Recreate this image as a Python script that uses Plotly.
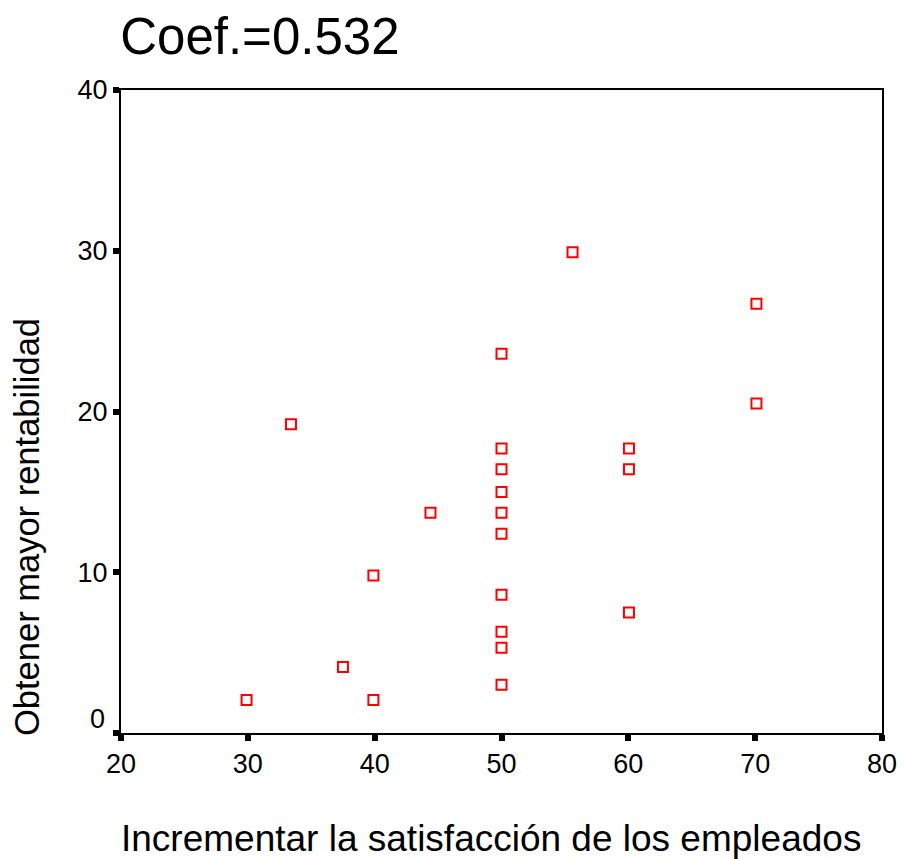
import plotly.graph_objects as go

# Data
satisfaccion = [55.6, 70.1, 50.0, 70.1, 33.4, 50.0, 60.05, 50.0, 60.05, 50.0,
                44.4, 50.0, 50.0, 39.9, 50.0, 60.05, 50.0, 50.0, 37.5, 50.0,
                29.9, 39.9]
rentabilidad = [29.9, 26.7, 23.6, 20.5, 19.2, 17.7, 17.7, 16.4, 16.4, 15.0,
                13.7, 13.7, 12.4, 9.8, 8.6, 7.5, 6.3, 5.3, 4.1, 3.0,
                2.05, 2.05]

x_ticks = [20, 30, 40, 50, 60, 70, 80]
y_ticks = [0, 10, 20, 30, 40]
y_ticktext = ["", "10", "20", "30", "40"]

title_text = "Coef.=0.532"
x_title = "Incrementar la satisfacción de los empleados"
y_title = "Obtener mayor rentabilidad"

FONT = "Liberation Sans, Arial, sans-serif"

fig = go.Figure()
fig.add_trace(go.Scatter(
    x=satisfaccion, y=rentabilidad, mode="markers",
    marker=dict(symbol="square-open", size=10, color="#ff0000",
                line=dict(width=2, color="#ff0000")),
    showlegend=False, hoverinfo="x+y",
))

axis_common = dict(
    showgrid=False, zeroline=False, showline=True, linecolor="black",
    linewidth=2, mirror=True, ticks="outside", ticklen=6, tickwidth=6,
    tickcolor="black", tickfont=dict(family=FONT, size=27, color="black"),
    automargin=False,
)

fig.update_layout(
    width=904, height=859,
    margin=dict(l=121, r=22, t=90, b=126),
    paper_bgcolor="white", plot_bgcolor="white",
    font=dict(family=FONT, color="black"),
    title=dict(text=title_text, x=0.133, xanchor="left", xref="container",
               y=1 - 36 / 859, yanchor="middle", yref="container",
               font=dict(family=FONT, size=51, color="black"),
               automargin=False),
    xaxis=dict(range=[20, 80], tickvals=x_ticks, **axis_common),
    yaxis=dict(range=[0, 40], tickvals=y_ticks, ticktext=y_ticktext, **axis_common),
    annotations=[
        dict(text="0", x=0, y=0, xref="paper", yref="y", xanchor="right",
             yanchor="middle", xshift=-14, yshift=14, showarrow=False,
             font=dict(family=FONT, size=27, color="black")),
        dict(text=x_title, x=0.5, y=0, xref="paper", yref="paper",
             xanchor="center", yanchor="middle", yshift=-105, xshift=-11,
             showarrow=False, font=dict(family=FONT, size=37, color="black")),
        dict(text=y_title, x=0, y=0, xref="paper", yref="paper",
             xanchor="center", yanchor="middle", xshift=-94, yshift=206,
             textangle=-90, showarrow=False,
             font=dict(family=FONT, size=34.5, color="black")),
    ],
)

fig.write_html("out.html")
